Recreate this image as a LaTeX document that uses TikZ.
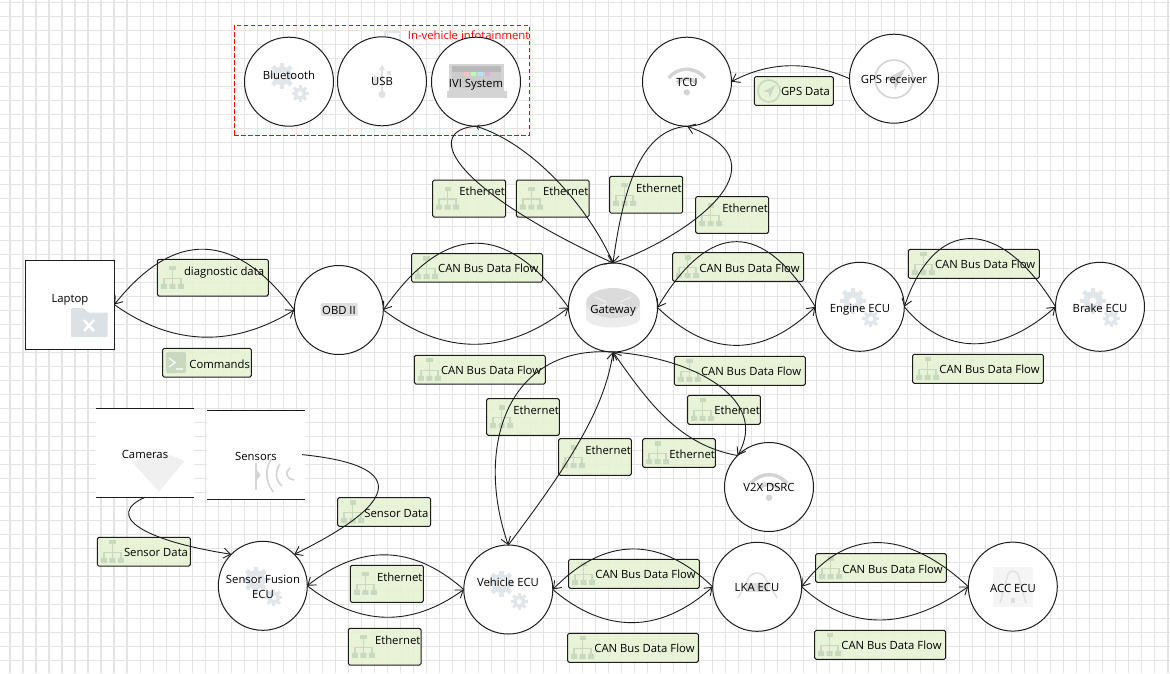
\documentclass[tikz,border=0pt]{standalone}
\usepackage{fontspec}
\setmainfont{Open Sans}
\usetikzlibrary{arrows.meta}
\definecolor{gridc}{HTML}{E4E4E4}
\definecolor{boxfill}{HTML}{E6F2D3}
\definecolor{icongreen}{HTML}{C9D9C0}
\definecolor{gearc}{HTML}{E0E6EA}
\definecolor{greyicon}{HTML}{D4D4D4}
\definecolor{lnc}{HTML}{1C1C1C}
\tikzset{
  circ/.style={circle,draw=lnc,fill=white,line width=1pt,minimum size=89pt,inner sep=0pt,outer sep=0pt},
  txtbase/.style={inner sep=0pt,outer sep=0pt,text=black,font=\fontsize{11.3}{15.5}\selectfont,align=center},
  txt/.style={txtbase,text height=8pt,text depth=0pt},
  lblbox/.style={draw=lnc,fill=boxfill,fill opacity=.88,line width=1pt,rounded corners=1.5pt,inner sep=0pt,outer sep=0pt,anchor=north west},
  flow/.style={draw=lnc,line width=.9pt,-{Straight Barb[length=7pt,width=10pt,line width=.9pt]}},
  flowsmall/.style={draw=lnc,line width=.9pt,-{Straight Barb[length=3pt,width=5pt,line width=.7pt]}},
  plainrect/.style={fill=white,inner sep=0pt,outer sep=0pt,minimum width=98pt}
}
\newcommand{\hiericon}[2]{%
 \begin{scope}[shift={(#1,#2)}]
  \fill[icongreen] (8.3,0) rectangle (14.7,4.5);
  \draw[icongreen,line width=1.5pt] (11.5,4) -- (11.5,18) (3,18) -- (3,12.5) -- (20,12.5) -- (20,18);
  \fill[icongreen] (0,18) rectangle (6,23) (8.5,18) rectangle (14.5,23) (17,18) rectangle (23,23);
 \end{scope}}
\newcommand{\plainL}[7]{%
 \node[lblbox,minimum width={(#4-#2)*1pt},minimum height={(#5-#3)*1pt}] (#1) at (#2,#3) {};
 \node[txt,anchor=west] (#1t) at (#2+26.7,#3+#6) {#7};}
\newcommand{\tallL}[6]{\plainL{#1}{#2}{#3}{#4}{#5}{11.7}{#6}\hiericon{#2+3.5}{#3+6.5}}
\newcommand{\shortL}[6]{\plainL{#1}{#2}{#3}{#4}{#5}{15.3}{#6}\hiericon{#2+3.5}{#3+2.5}}
\newcommand{\gears}[2]{%
 \begin{scope}[shift={(#1,#2)}]
  \draw[gearc,line width=6pt] (-7,-6) circle (6.5);
  \foreach \a in {0,45,...,315} \draw[gearc,line width=4.5pt] (-7,-6) ++(\a:9) -- ++(\a:4);
  \draw[gearc,line width=3.5pt] (11,12) circle (4.5);
  \foreach \a in {0,45,...,315} \draw[gearc,line width=3pt] (11,12) ++(\a:5.5) -- ++(\a:3);
 \end{scope}}
\newcommand{\wifi}[2]{%
 \begin{scope}[shift={(#1,#2)}]
  \fill[greyicon] (0,0) circle (3.2);
  \draw[greyicon,line width=3.5pt] (-142:23) arc (-142:-38:23);
  \draw[greyicon,line width=3.5pt] (-135:13.5) arc (-135:-45:13.5);
 \end{scope}}
\newcommand{\compass}[4]{%
 \begin{scope}[shift={(#1,#2)},scale=#3]
  \draw[#4,line width=1.6pt] (0,0) circle (19);
  \fill[#4] (11,-10) -- (-10,1) -- (-1,2) -- (1,11) -- cycle;
 \end{scope}}
\begin{document}
\begin{tikzpicture}[x=1pt,y=-1pt]
\useasboundingbox (0,0) rectangle (1170,673);
\fill[white] (0,0) rectangle (1170,673);
% grid
\foreach \i in {0,...,89} \draw[gridc,line width=1.2pt] ({10+13.01*\i},0) -- ({10+13.01*\i},673);
\foreach \j in {0,...,47} \draw[gridc,line width=1.2pt] (0,{2.3+14*\j}) -- (1170,{2.3+14*\j});
% faint boundary icon
\draw[gearc,line width=1.6pt] (385,40) -- (385,32) -- (400,32) -- (400,40);
% trust boundary
\node[draw=red,dash pattern=on 4.5pt off 2.5pt,line width=1pt,inner sep=0pt,outer sep=0pt,anchor=north west,minimum width=295pt,minimum height=110pt] (tb) at (234.3,25.3) {};
\node[txt,text=red,anchor=east] (tbt) at (tb.north east |- 0,35) {In-vehicle infotainment};
% labels
\tallL{e1}{432.7}{180}{505.7}{217}{Ethernet}
\tallL{e2}{516.3}{180}{589}{217}{Ethernet}
\tallL{e3}{609.5}{176.3}{682.7}{213}{Ethernet}
\tallL{e4}{695.7}{196.5}{768.5}{233.3}{Ethernet}
\plainL{gd}{754.3}{76.7}{833.3}{105.3}{15}{GPS Data}
\compass{769}{91}{.58}{icongreen}
\tallL{dd}{157.3}{259.3}{268.3}{296}{diagnostic data}
\plainL{cm}{162.7}{348.3}{251.3}{377}{15.7}{Commands}
\begin{scope}[shift={(166,352)}]
 \fill[icongreen,rounded corners=2pt] (0,0) rectangle (20,21);
 \draw[white,line width=1.2pt] (3,6) -- (9,10.5) -- (3,15) (10,17) -- (17,17);
\end{scope}
\shortL{c1}{411.5}{253.5}{542.5}{282}{CAN Bus Data Flow}
\shortL{c2}{672.7}{252.7}{803.7}{281.3}{CAN Bus Data Flow}
\shortL{c3}{908.3}{249.3}{1039.3}{278.3}{CAN Bus Data Flow}
\shortL{c4}{912.7}{354.3}{1043.3}{383.3}{CAN Bus Data Flow}
\shortL{c5}{414.3}{355.3}{545.3}{384}{CAN Bus Data Flow}
\shortL{c6}{674.3}{356.3}{805.3}{385.3}{CAN Bus Data Flow}
\tallL{e5}{486.7}{398.7}{559.3}{435.3}{Ethernet}
\tallL{e6}{558.7}{438.7}{631.3}{475.3}{Ethernet}
\shortL{e7}{642.7}{438.7}{715.3}{467.3}{Ethernet}
\shortL{e8}{687.7}{395.3}{760.3}{424.3}{Ethernet}
\shortL{s1}{337.7}{497.7}{430.7}{526.3}{Sensor Data}
\shortL{s2}{97.3}{537.3}{190.3}{566}{Sensor Data}
\tallL{e9}{350.3}{565.3}{423.3}{602.3}{Ethernet}
\tallL{e10}{348.3}{628.3}{421}{665}{Ethernet}
\shortL{c7}{568.7}{559.3}{699.3}{588.3}{CAN Bus Data Flow}
\shortL{c8}{567.7}{633.3}{698.3}{662.3}{CAN Bus Data Flow}
\shortL{c9}{815.7}{553.7}{946.3}{582.3}{CAN Bus Data Flow}
\shortL{c10}{814.7}{630.3}{945.7}{659.3}{CAN Bus Data Flow}
% entity shapes
\node[draw=lnc,fill=white,line width=1pt,inner sep=0pt,outer sep=0pt,minimum size=89pt] (laptop) at (69.8,304.6) {};
\node[plainrect,minimum height=89pt] (cam) at (145,452.8) {};
\draw[lnc,line width=1pt] (cam.north west) -- (cam.north east) (cam.south west) -- (cam.south east);
\node[plainrect,minimum height=89pt] (sen) at (256,454.6) {};
\draw[lnc,line width=1pt] (sen.north west) -- (sen.north east) (sen.south west) -- (sen.south east);
\node[circ] (bt) at (289,81.7) {};
\node[circ] (usb) at (382,81.3) {};
\node[circ] (ivi) at (476,81.7) {};
\node[circ] (tcu) at (687,81.7) {};
\node[circ] (gps) at (894,78.7) {};
\node[circ] (obd) at (338.8,310) {};
\node[circ] (gw) at (613,307.5) {};
\node[circ] (eng) at (859.8,306.8) {};
\node[circ] (brk) at (1100,306.8) {};
\node[circ] (v2x) at (769,487) {};
\node[circ] (sf) at (262.8,585.8) {};
\node[circ] (veh) at (508.3,589.5) {};
\node[circ] (lka) at (757.2,586.8) {};
\node[circ] (acc) at (1012.8,586.6) {};
% icons
\gears{289}{81.7}
\gears{859.8}{306.8}
\gears{1100}{306.8}
\gears{262.8}{585.8}
\gears{508.3}{589.5}
% usb
\draw[greyicon!70,line width=1.2pt] (382,68) -- (382,92);
\fill[greyicon!70] (382,65) -- (379,70) -- (385,70) -- cycle (382,94.5) circle (3.6);
\fill[greyicon!70] (387,70.5) rectangle (391,74.5);
\fill[greyicon!70] (375,80) ellipse (2 and 5);
% ivi
\fill[greyicon] (446.7,91) rectangle (507,98);
\fill[greyicon] (449,63.5) rectangle (504,92);
\fill[gray!55] (452,66) rectangle (501,72);
\fill[gray!40] (452,72) rectangle (501,88);
\foreach \cx/\cc in {464/red!25,471/green!30,478/cyan!30,485/violet!30} \fill[\cc] (\cx,72) rectangle (\cx+5,76);
% wifi
\wifi{686.7}{92.3}
\wifi{769}{497.7}
% compass
\compass{894}{79}{1}{greyicon}
% obd
\fill[gray!25,rounded corners=2pt] (320.7,303) rectangle (357.7,316);
% folder
\fill[gearc!95!gray,rounded corners=1pt] (71,308) -- (84,308) -- (88,312.5) -- (107.7,312.5) -- (107.7,337) -- (71,337) -- cycle;
\draw[white,line width=2.5pt] (84,320) -- (94,331) (94,320) -- (84,331);
% router
\fill[gray!15] (586,303) -- (586,318) arc (180:0:27 and 9.5) -- (640,303) -- cycle;
\fill[gray!28] (613,303) ellipse (27 and 15);
\draw[white,line width=1.2pt,opacity=.6] (595,297) -- (606,302) (631,297) -- (620,302) (595,309) -- (606,304) (631,309) -- (620,304);
% camera cone
\fill[gray!12] (159,491.7) -- (133,463) .. controls (145,453) and (170,451) .. (184,461.7) -- cycle;
% sensor
\fill[greyicon] (254.5,463) rectangle (257,490);
\fill[greyicon] (257,470) -- (260.5,475) -- (257,480) -- cycle;
\draw[greyicon,line width=1.6pt] (271.5,459) .. controls (265,468) and (265,482) .. (273.5,492);
\draw[greyicon,line width=1.6pt] (280,464) .. controls (275,471) and (275,480) .. (282,486);
\draw[greyicon,line width=1.6pt] (290,468) .. controls (285,472) and (285,478) .. (294,480);
% lka road
\draw[greyicon!70,line width=1.6pt] (750,576) -- (738,598) (764,576) -- (777,598) (750,576) .. controls (755,572) and (759,572) .. (764,576);
\fill[greyicon!80] (746,583) rectangle (768,592);
% acc
\fill[gray!8] (993,566.7) rectangle (1033,606.7);
\draw[greyicon!70,line width=1.4pt] (1008,574) -- (1000,603) (1018,574) -- (1026,603) (1008,574) .. controls (1011,570) and (1015,570) .. (1018,574);
\fill[greyicon!80] (1011,598) rectangle (1015,603);
% texts
\node[txt] (btt) at (289,75) {Bluetooth};
\node[txt] (usbt) at (382,81.5) {USB};
\node[txt] (ivit) at (476,83) {IVI System};
\node[txt] (tcut) at (687,82) {TCU};
\node[txt] (gpst) at (894,79.5) {GPS receiver};
\node[txt] (lapt) at (70,298) {Laptop};
\node[txt] (obdt) at (339,310.5) {OBD II};
\node[txt] (gwt) at (613,309) {Gateway};
\node[txt] (engt) at (860,308) {Engine ECU};
\node[txt] (brkt) at (1100,308) {Brake ECU};
\node[txt] (camt) at (145,454) {Cameras};
\node[txt] (sent) at (256,456) {Sensors};
\node[txt] (v2xt) at (769,487.5) {V2X DSRC};
\node[txtbase] (sft) at (263,587) {Sensor Fusion\\ECU};
\node[txt] (veht) at (508,582) {Vehicle ECU};
\node[txt] (lkat) at (757,587.5) {LKA ECU};
\node[txt] (acct) at (1013,588) {ACC ECU};
% connectors
\draw[flow] (obd.west) .. controls (234,230) and (174,230) .. (laptop.east);
\draw[flow] (laptop.east) .. controls (174,347) and (234,347) .. (obd.west);
\draw[flow] (gw.west) .. controls (506,221.5) and (445,221.5) .. (obd.east);
\draw[flow] (obd.east) .. controls (445,356) and (506,356) .. (gw.west);
\draw[flow] (eng.west) .. controls (763,220) and (710,220) .. (gw.east);
\draw[flow] (gw.east) .. controls (710,358) and (763,358) .. (eng.west);
\draw[flow] (brk.west) .. controls (1000,216) and (935,216) .. (eng.east);
\draw[flow] (eng.east) .. controls (945,356) and (1000,356) .. (brk.west);
\draw[flow] (gw.north) .. controls (680,240) and (795,165) .. (tcu.south);
\draw[flow] (tcu.south) .. controls (640,130) and (623,190) .. (gw.north);
\draw[flow] (ivi.south) .. controls (425,130) and (445,185) .. (gw.north);
\draw[flowsmall] (gw.north) .. controls (590,210) and (535,145) .. (ivi.south);
\draw[flow] (gps.west) .. controls (810,61) and (770,61) .. (tcu.east);
\draw[flow] (gw.south) .. controls (695,358) and (770,400) .. (v2x.north west);
\draw[flow] (v2x.north west) .. controls (680,445) and (650,405) .. (gw.south);
\draw[flow] (gw.south) .. controls (505,345) and (475,450) .. (veh.north);
\draw[flow] (veh.north) .. controls (565,470) and (605,410) .. (gw.south);
\draw[flow] ([xshift=-3pt]sen.east) .. controls (405,465) and (405,500) .. (sf.north east);
\draw[flow] (cam.south) .. controls (105,515) and (140,540) .. (sf.north west);
\draw[flow] (veh.west) .. controls (412,544) and (360,544) .. (sf.east);
\draw[flow] (sf.east) .. controls (360,627) and (412,627) .. (veh.west);
\draw[flow] (lka.west) .. controls (660,536) and (605,536) .. (veh.east);
\draw[flow] (veh.east) .. controls (605,634) and (660,634) .. (lka.west);
\draw[flow] (acc.west) .. controls (905,528) and (845,528) .. (lka.east);
\draw[flow] (lka.east) .. controls (850,631) and (905,631) .. (acc.west);
\end{tikzpicture}
\end{document}
